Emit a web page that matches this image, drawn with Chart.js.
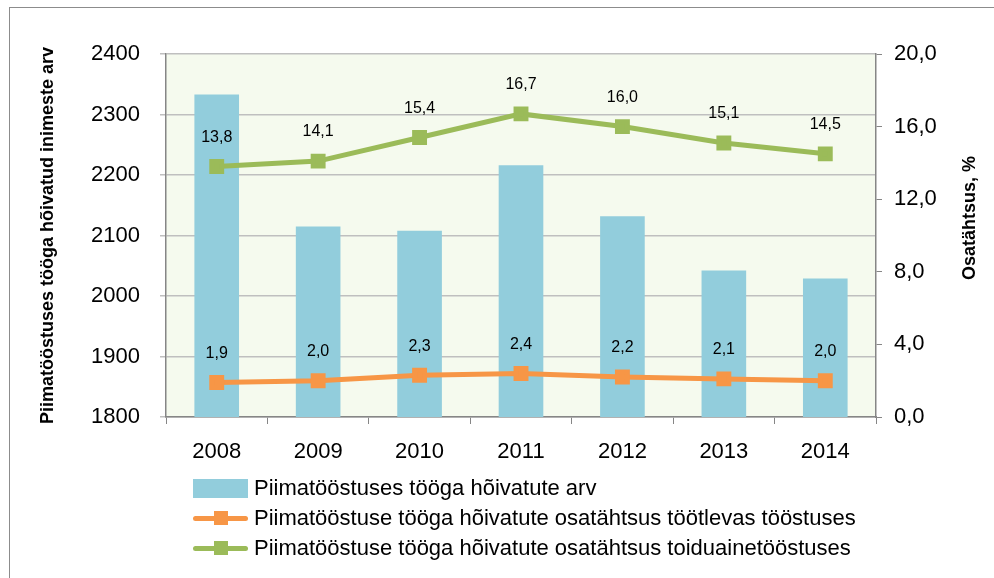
<!DOCTYPE html>
<html lang="et">
<head>
<meta charset="UTF-8">
<script src="https://cdn.jsdelivr.net/npm/chart.js"></script>
<title>Piimatööstus</title>
<style>
    body { margin: 0; background: #fff; }
    #wrap { position: relative; width: 994px; height: 578px; }
    #frame {
        position: absolute; left: 9px; top: 7px; width: 1000px; height: 600px;
        border-left: 1px solid #8c8c8c; border-top: 1px solid #8c8c8c;
    }
    #legend {
        position: absolute; left: 193px; top: 473px;
        font-family: "Liberation Sans", Arial, sans-serif; font-size: 22px; color: #000;
    }
    .row { height: 30px; display: flex; align-items: center; }
    .box { width: 55px; height: 19px; background: #92cddc; margin-right: 6px; }
    .ln { position: relative; width: 55px; height: 19px; margin-right: 6px; }
    .ln i { position: absolute; left: 0; right: 0; top: 7px; height: 5px; border-radius: 3px; }
    .ln b { position: absolute; left: 21px; top: 2px; width: 14px; height: 14px; }
</style>
</head>
<body>
<div id="wrap">
    <canvas id="c" width="994" height="578"></canvas>
    <div id="frame"></div>
    <div id="legend"></div>
</div>
<script>
    const years = ['2008', '2009', '2010', '2011', '2012', '2013', '2014'];
    const employed = [2333, 2115, 2108, 2216, 2132, 2042, 2029];
    const shareManufacturing = [1.9, 2.0, 2.3, 2.4, 2.2, 2.1, 2.0];
    const shareFood = [13.8, 14.1, 15.4, 16.7, 16.0, 15.1, 14.5];

    const names = [
        'Piimatööstuses tööga hõivatute arv',
        'Piimatööstuse tööga hõivatute osatähtsus töötlevas tööstuses',
        'Piimatööstuse tööga hõivatute osatähtsus toiduainetööstuses'
    ];
    const blue = '#92cddc', orange = '#f79646', green = '#9bbb59';
    const font = 'Liberation Sans';
    const fmt = v => v.toFixed(1).replace('.', ',');

    // plot background, labels above the line points, right axis title
    const extras = {
        id: 'extras',
        beforeDraw(chart) {
            const a = chart.chartArea, ctx = chart.ctx;
            ctx.save();
            ctx.fillStyle = '#f5faee';
            ctx.fillRect(a.left, a.top, a.right - a.left, a.bottom - a.top);
            ctx.restore();
        },
        afterDatasetsDraw(chart) {
            const ctx = chart.ctx;
            ctx.save();
            ctx.font = '16px ' + font;
            ctx.fillStyle = '#000';
            ctx.textAlign = 'center';
            ctx.textBaseline = 'middle';
            [1, 2].forEach(i => {
                chart.getDatasetMeta(i).data.forEach((p, j) => {
                    ctx.fillText(fmt(chart.data.datasets[i].data[j]), p.x, p.y - 29);
                });
            });
            ctx.translate(970, 218);
            ctx.rotate(-Math.PI / 2);
            ctx.font = 'bold 18px ' + font;
            ctx.fillText('Osatähtsus, %', 0, 0);
            ctx.restore();
        }
    };

    new Chart(document.getElementById('c'), {
        data: {
            labels: years,
            datasets: [
                { type: 'bar', label: names[0], data: employed, yAxisID: 'y', backgroundColor: blue,
                  barPercentage: 0.88, categoryPercentage: 0.5, order: 3 },
                { type: 'line', label: names[1], data: shareManufacturing, yAxisID: 'y1', borderColor: orange,
                  backgroundColor: orange, borderWidth: 5, pointStyle: 'rect', pointRadius: 7, order: 1 },
                { type: 'line', label: names[2], data: shareFood, yAxisID: 'y1', borderColor: green,
                  backgroundColor: green, borderWidth: 5, pointStyle: 'rect', pointRadius: 7, order: 2 }
            ]
        },
        options: {
            responsive: false,
            animation: false,
            layout: { padding: { left: 0, right: 0, top: 54, bottom: 0 } },
            plugins: { legend: { display: false }, tooltip: { enabled: false } },
            scales: {
                x: {
                    grid: { drawOnChartArea: false, color: '#868686', tickLength: 7, offset: true },
                    border: { color: '#868686', width: 1.5 },
                    ticks: { font: { family: font, size: 22 }, color: '#000', padding: 15 },
                    afterFit(s) { s.height = 161; }
                },
                y: {
                    position: 'left', min: 1800, max: 2400,
                    ticks: { stepSize: 100, font: { family: font, size: 22 }, color: '#000', padding: 20,
                             callback: v => String(v) },
                    grid: { color: '#bfbfbf', lineWidth: 1.5, tickLength: 6 },
                    border: { color: '#868686', width: 1.5 },
                    title: { display: true, text: 'Piimatööstuses tööga hõivatud inimeste arv',
                             font: { family: font, size: 18, weight: 'bold' }, color: '#000', padding: { top: 37, bottom: 0 } },
                    afterFit(s) { s.width = 166; }
                },
                y1: {
                    position: 'right', min: 0, max: 20,
                    ticks: { stepSize: 4, font: { family: font, size: 22 }, color: '#000', padding: 12,
                             callback: v => fmt(v) },
                    grid: { drawOnChartArea: false, color: '#868686', tickLength: 6 },
                    border: { color: '#868686', width: 1.5 },
                    afterFit(s) { s.width = 118; }
                }
            }
        },
        plugins: [extras]
    });

    // legend
    const lg = document.getElementById('legend');
    const cols = [blue, orange, green];
    names.forEach((n, i) => {
        const row = document.createElement('div');
        row.className = 'row';
        const m = document.createElement('div');
        if (i === 0) {
            m.className = 'box';
        } else {
            m.className = 'ln';
            m.innerHTML = '<i style="background:' + cols[i] + '"></i><b style="background:' + cols[i] + '"></b>';
        }
        row.appendChild(m);
        row.appendChild(document.createTextNode(n));
        lg.appendChild(row);
    });
</script>
</body>
</html>
